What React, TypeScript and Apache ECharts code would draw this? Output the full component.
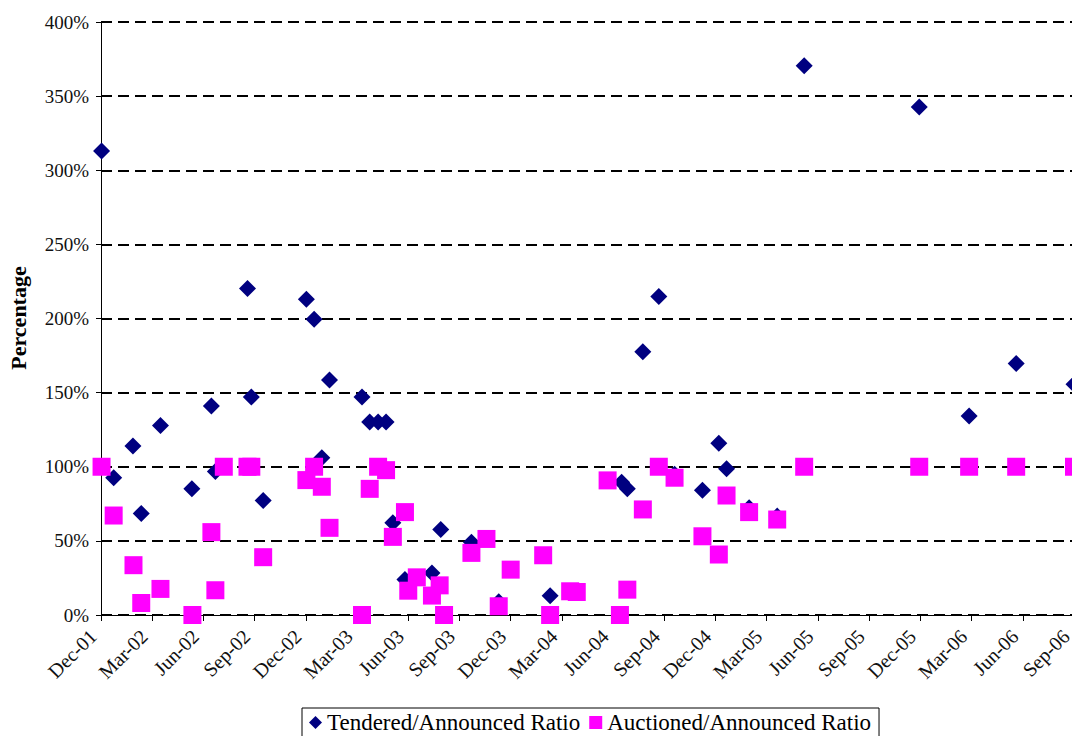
import React, { useEffect, useRef } from "react";
import * as echarts from "echarts";

// Tick labels (every 3 months from Dec-01 to Sep-06)
const monthNames = ["Jan", "Feb", "Mar", "Apr", "May", "Jun", "Jul", "Aug", "Sep", "Oct", "Nov", "Dec"];

const seriesNames = ["Tendered/Announced Ratio", "Auctioned/Announced Ratio"];

// Tendered / Announced ratio (%)
const tenderedDates = [
  "2001-12-02", "2001-12-24", "2002-01-28", "2002-02-11", "2002-03-16", "2002-05-11",
  "2002-06-15", "2002-06-22", "2002-08-19", "2002-08-26", "2002-09-16", "2002-12-02",
  "2002-12-16", "2002-12-30", "2003-01-13", "2003-03-10", "2003-03-24", "2003-04-08",
  "2003-04-22", "2003-05-04", "2003-05-26", "2003-07-13", "2003-07-29", "2003-09-22",
  "2003-11-10", "2004-02-10", "2004-06-16", "2004-06-26", "2004-07-24", "2004-08-22",
  "2004-09-19", "2004-11-08", "2004-12-07", "2004-12-21", "2005-01-31", "2005-03-20",
  "2005-05-07", "2005-11-29", "2006-02-25", "2006-05-20", "2006-09-01",
];
const tenderedValues = [
  313, 92.6, 114, 68.5, 127.9, 85.1,
  141, 96.8, 220.3, 147, 77.2, 213,
  199.5, 106, 158.5, 147, 130.2, 130.2,
  130.2, 62.2, 24, 28.4, 57.7, 49,
  9, 13, 89.6, 85.1, 177.5, 214.8,
  95, 84.2, 115.8, 98.6, 72.3, 66.7,
  370.5, 342.7, 134.2, 169.6, 155.6,
];

// Auctioned / Announced ratio (%)
const auctionedDates = [
  "2001-12-02", "2001-12-24", "2002-01-29", "2002-02-11", "2002-03-16", "2002-05-12",
  "2002-06-15", "2002-06-22", "2002-07-07", "2002-08-19", "2002-08-26", "2002-09-16",
  "2002-12-02", "2002-12-16", "2002-12-30", "2003-01-13", "2003-03-10", "2003-03-24",
  "2003-04-08", "2003-04-22", "2003-05-04", "2003-05-26", "2003-06-01", "2003-06-16",
  "2003-07-13", "2003-07-27", "2003-08-04", "2003-09-22", "2003-10-19", "2003-11-10",
  "2003-12-01", "2004-01-29", "2004-02-10", "2004-03-16", "2004-03-28", "2004-05-22",
  "2004-06-13", "2004-06-26", "2004-07-24", "2004-08-22", "2004-09-19", "2004-11-08",
  "2004-12-07", "2004-12-21", "2005-01-31", "2005-03-20", "2005-05-07", "2005-11-29",
  "2006-02-25", "2006-05-20", "2006-09-01",
];
const auctionedValues = [
  100, 67.1, 33.6, 8.1, 17.6, 0,
  55.9, 16.7, 100, 100, 100, 39,
  91, 100, 86.5, 58.8, 0, 85.1,
  100, 97.7, 52.7, 69.4, 16.4, 25.4,
  13.1, 20, 0, 41.9, 51.3, 5.9,
  30.6, 40.3, 0, 16, 15.5, 90.8,
  0, 17.1, 71.2, 100, 92.6, 53.1,
  40.8, 80.6, 69.4, 64.4, 100, 100,
  100, 100, 100,
];

// months elapsed since 1 Dec 2001
function monthsSinceDec01(s: string): number {
  const [y, m, d] = s.split("-").map(Number);
  const dim = new Date(y, m, 0).getDate();
  return (y - 2001) * 12 + (m - 12) + (d - 1) / dim;
}

function monthLabel(v: number): string {
  const idx = Math.round(v) + 11;
  const name = monthNames[idx % 12];
  const year = 2001 + Math.floor(idx / 12);
  return name + "-" + String(year % 100).padStart(2, "0");
}

const FONT = "'Liberation Serif', 'Times New Roman', serif";

export default function App() {
  const ref = useRef<HTMLDivElement>(null);

  useEffect(() => {
    if (!ref.current) return;
    const chart = echarts.init(ref.current, null, { renderer: "svg" });
    const tendered = tenderedDates.map((d, i) => [monthsSinceDec01(d), tenderedValues[i]]);
    const auctioned = auctionedDates.map((d, i) => [monthsSinceDec01(d), auctionedValues[i]]);

    chart.setOption({
      animation: false,
      backgroundColor: "#ffffff",
      textStyle: { fontFamily: FONT },
      grid: [
        { left: 101, top: 22, right: 26, bottom: 121, containLabel: false },
        // label-only grid, shifted a few pixels left so rotated labels end before their tick
        { left: 93, top: 22, right: 34, bottom: 121, containLabel: false },
      ],
      xAxis: [
        {
          type: "value",
          gridIndex: 0,
          min: 0,
          max: 57,
          interval: 3,
          axisLine: { show: true, onZero: false, lineStyle: { color: "#000", width: 1 } },
          axisTick: { show: true, length: 6, inside: false, lineStyle: { color: "#000" } },
          splitLine: { show: false },
          axisLabel: { show: false },
        },
        {
          type: "value",
          gridIndex: 1,
          min: 0,
          max: 57,
          interval: 3,
          axisLine: { show: false },
          axisTick: { show: false },
          splitLine: { show: false },
          axisLabel: {
            rotate: 45,
            margin: 18,
            fontSize: 20,
            fontFamily: FONT,
            color: "#111",
            formatter: (v: number) => monthLabel(v),
          },
        },
      ],
      yAxis: [
        {
          type: "value",
          gridIndex: 0,
          min: 0,
          max: 400,
          interval: 50,
          axisLine: { show: true, lineStyle: { color: "#000", width: 1 } },
          axisTick: { show: true, length: 5, inside: false, lineStyle: { color: "#000" } },
          splitLine: { show: true, lineStyle: { color: "#000", width: 2, type: [11, 6] } },
          axisLabel: {
            margin: 12,
            fontSize: 19,
            fontFamily: FONT,
            color: "#111",
            formatter: (v: number) => v + "%",
          },
        },
        { type: "value", gridIndex: 1, min: 0, max: 400, show: false },
      ],
      legend: {
        left: 302,
        top: 708,
        orient: "horizontal",
        padding: [3, 8, 5, 7],
        borderColor: "#000",
        borderWidth: 1,
        backgroundColor: "#fff",
        itemWidth: 13,
        itemHeight: 13,
        itemGap: 9,
        textStyle: { fontSize: 23, fontFamily: FONT, color: "#000" },
        data: [
          { name: seriesNames[0], icon: "diamond" },
          { name: seriesNames[1], icon: "rect" },
        ],
      },
      graphic: [
        {
          type: "text",
          x: 18,
          y: 318,
          rotation: Math.PI / 2,
          style: {
            text: "Percentage",
            fontFamily: FONT,
            fontSize: 22,
            fontWeight: "bold",
            fill: "#000",
            align: "center",
            verticalAlign: "middle",
          },
        },
      ],
      series: [
        {
          name: seriesNames[0],
          type: "scatter",
          xAxisIndex: 0,
          yAxisIndex: 0,
          symbol: "diamond",
          symbolSize: 17,
          clip: false,
          itemStyle: { color: "#000080", opacity: 1 },
          data: tendered,
          z: 2,
        },
        {
          name: seriesNames[1],
          type: "scatter",
          xAxisIndex: 0,
          yAxisIndex: 0,
          symbol: "rect",
          symbolSize: 18,
          clip: false,
          itemStyle: { color: "#ff00ff", opacity: 1 },
          data: auctioned,
          z: 3,
        },
      ],
    });

    return () => {
      chart.dispose();
    };
  }, []);

  return (
    <div
      style={{ position: "fixed", left: 0, top: 0, width: 1072, height: 736, overflow: "hidden", background: "#fff" }}
    >
      <div ref={ref} style={{ width: 1100, height: 736 }} />
    </div>
  );
}
